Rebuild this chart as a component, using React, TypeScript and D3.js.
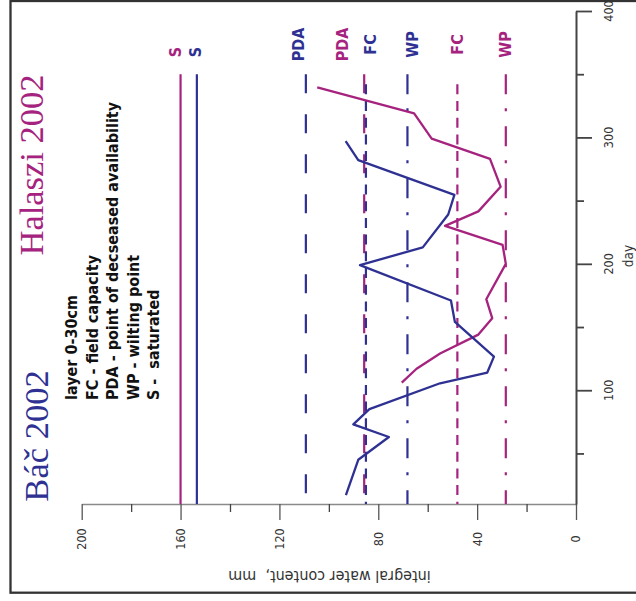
import React, { useEffect, useRef } from 'react';
import * as d3 from 'd3';

// Báč 2002 (blue) and Halaszi 2002 (magenta), integral water content of layer 0-30cm
const bacDays = [17, 45, 63, 73, 85, 105.5, 114, 126.6, 154, 171, 199, 213, 239, 254.6, 282, 297];
const bacWater = [93.1, 88.1, 75.7, 90.1, 83.6, 55.0, 35.9, 33.2, 49.0, 50.6, 87.4, 62.0, 51.7, 49.2, 88.1, 93.2];

const halDays = [106, 117, 129, 144, 157, 172, 200, 215, 230, 241.5, 261, 283, 299, 319, 339.5];
const halWater = [70.5, 64.5, 55.0, 39.5, 33.9, 36.3, 28.4, 29.7, 53.0, 39.5, 30.5, 34.8, 58.4, 65.5, 104.7];

// soil water limits, drawn as vertical lines
const limitNames = ['S', 'S', 'PDA', 'PDA', 'FC', 'WP', 'FC', 'WP'];
const limitSites = ['hal', 'bac', 'bac', 'hal', 'bac', 'bac', 'hal', 'hal'];
const limitWater = [160, 153.4, 109.3, 85.7, 85, 68.2, 48, 28.4];
const limitStart = [350, 350, 350, 350, 342, 350, 342, 350];

const waterMajor = [0, 40, 80, 120, 160, 200];
const waterMinor = [20, 60, 100, 140, 180];
const dayMajor = [100, 200, 300, 400];
const dayMinor = [50, 150, 250, 350];

const legendLines = [
  'layer 0-30cm',
  'FC - field capacity',
  'PDA - point of decseased availability',
  'WP - wilting point',
  'S -  saturated',
];

const BLUE = '#2e3192';
const MAGENTA = '#a5237e';
const SANS = '"DejaVu Sans Condensed", "DejaVu Sans", sans-serif';

const dashes: Record<string, string> = {
  S: 'none',
  PDA: '19 21',
  FC: '10 6.7',
  WP: '20 14 3 15',
};

// label nudges relative to the line, px
const labelShift = [-5, -1, -7.5, -22, 4, 5, 0, -0.5];

const App: React.FC = () => {
  const svgRef = useRef<SVGSVGElement | null>(null);

  useEffect(() => {
    if (!svgRef.current) return;
    const svg = d3.select(svgRef.current);
    svg.selectAll('*').remove();

    const width = 636;
    const height = 601;

    // the chart is turned on its side: water runs right→left, days run bottom→top
    const x = d3.scaleLinear().domain([0, 200]).range([576, 81.7]);
    const y = d3.scaleLinear().domain([10, 400]).range([504, 11]);

    svg.attr('width', width).attr('height', height);

    svg.append('rect')
      .attr('x', 10.5).attr('y', 1)
      .attr('width', 640).attr('height', 591.7)
      .attr('fill', 'none')
      .attr('stroke', '#333')
      .attr('stroke-width', 2.3);

    // water axis (bottom)
    const wAxis = svg.append('g').attr('transform', 'translate(0,504)');
    wAxis.call(d3.axisBottom(x).tickValues(waterMajor).tickSize(16).tickSizeOuter(0).tickFormat(() => ''));
    wAxis.select('.domain').attr('stroke', '#8a8a8a').attr('stroke-width', 1.4);
    wAxis.selectAll('.tick line').attr('stroke', '#555').attr('stroke-width', 1.3);
    const wMinor = svg.append('g').attr('transform', 'translate(0,504)');
    wMinor.call(d3.axisBottom(x).tickValues(waterMinor).tickSize(8).tickFormat(() => ''));
    wMinor.select('.domain').remove();
    wMinor.selectAll('.tick line').attr('stroke', '#444').attr('stroke-width', 1.3);

    svg.append('g').selectAll('text')
      .data(waterMajor)
      .enter()
      .append('text')
      .attr('transform', d => `translate(${x(d)},539) rotate(-90)`)
      .attr('dy', '0.35em')
      .attr('text-anchor', 'middle')
      .style('font-family', SANS)
      .style('font-size', '12.5px')
      .attr('fill', '#333')
      .text(d => d);

    svg.append('text')
      .attr('transform', 'translate(329.5,571) rotate(180)')
      .attr('text-anchor', 'middle')
      .style('font-family', SANS)
      .style('font-size', '16px')
      .style('white-space', 'pre')
      .attr('fill', '#333')
      .text('integral water content,  mm');

    // day axis (right)
    const dAxis = svg.append('g').attr('transform', 'translate(576,0)');
    dAxis.call(d3.axisRight(y).tickValues(dayMajor).tickSize(16).tickSizeOuter(0).tickFormat(() => ''));
    dAxis.select('.domain').attr('stroke', '#444').attr('stroke-width', 2);
    dAxis.selectAll('.tick line').attr('stroke', '#444').attr('stroke-width', 1.8);
    const dMinor = svg.append('g').attr('transform', 'translate(576,0)');
    dMinor.call(d3.axisRight(y).tickValues(dayMinor).tickSize(8).tickFormat(() => ''));
    dMinor.select('.domain').remove();
    dMinor.selectAll('.tick line').attr('stroke', '#444').attr('stroke-width', 1.8);

    svg.append('g').selectAll('text')
      .data(dayMajor)
      .enter()
      .append('text')
      .attr('transform', d => `translate(608.5,${y(d)}) rotate(-90)`)
      .attr('dy', '0.35em')
      .attr('text-anchor', 'middle')
      .style('font-family', SANS)
      .style('font-size', '12.5px')
      .attr('fill', '#333')
      .text(d => d);

    svg.append('text')
      .attr('transform', 'translate(632.5,256) rotate(-90)')
      .attr('text-anchor', 'middle')
      .style('font-family', SANS)
      .style('font-size', '13.5px')
      .attr('fill', '#333')
      .text('day');

    // limit lines
    const limits = limitNames.map((name, i) => ({
      name,
      site: limitSites[i],
      water: limitWater[i],
      start: limitStart[i],
      shift: labelShift[i],
    }));
    limits.forEach(d => {
      svg.append('line')
        .attr('x1', x(d.water)).attr('x2', x(d.water))
        .attr('y1', y(d.start)).attr('y2', y(10))
        .attr('stroke', d.site === 'bac' ? BLUE : MAGENTA)
        .attr('stroke-width', 2.2)
        .attr('stroke-dasharray', dashes[d.name]);
    });

    svg.append('g').selectAll('text')
      .data(limits)
      .enter()
      .append('text')
      .attr('transform', d => `translate(${x(d.water) + d.shift},${d.name === 'S' ? 52 : 44.5}) rotate(-90)`)
      .attr('dy', '0.35em')
      .attr('text-anchor', 'middle')
      .style('font-family', SANS)
      .style('font-weight', 'bold')
      .style('font-size', '16px')
      .attr('fill', d => (d.site === 'bac' ? BLUE : MAGENTA))
      .text(d => d.name);

    // water content curves
    const line = d3.line<[number, number]>()
      .x(d => x(d[1]))
      .y(d => y(d[0]));

    const bac = bacDays.map((d, i) => [d, bacWater[i]] as [number, number]);
    const hal = halDays.map((d, i) => [d, halWater[i]] as [number, number]);

    svg.append('path')
      .datum(hal)
      .attr('d', line)
      .attr('fill', 'none')
      .attr('stroke', MAGENTA)
      .attr('stroke-width', 2.3)
      .attr('stroke-linejoin', 'round');

    svg.append('path')
      .datum(bac)
      .attr('d', line)
      .attr('fill', 'none')
      .attr('stroke', BLUE)
      .attr('stroke-width', 2.3)
      .attr('stroke-linejoin', 'round');

    // titles and legend
    svg.append('text')
      .attr('transform', 'translate(42.5,165) rotate(-90)')
      .attr('text-anchor', 'middle')
      .style('font-family', 'Liberation Serif')
      .style('font-size', '34.5px')
      .attr('fill', MAGENTA)
      .text('Halaszi 2002');

    svg.append('text')
      .attr('transform', 'translate(48,436) rotate(-90)')
      .attr('text-anchor', 'middle')
      .style('font-family', 'Liberation Serif')
      .style('font-size', '34.5px')
      .attr('fill', BLUE)
      .text('Báč 2002');

    const legendBase = [77, 97.5, 118, 138.5, 159];
    svg.append('g').selectAll('text')
      .data(legendLines)
      .enter()
      .append('text')
      .attr('transform', (d, i) => `translate(${legendBase[i]},400) rotate(-90)`)
      .attr('text-anchor', 'start')
      .style('font-family', SANS)
      .style('font-weight', 'bold')
      .style('font-size', '16px')
      .style('white-space', 'pre')
      .attr('fill', '#111')
      .text(d => d);
  }, []);

  return (
    <div style={{ position: 'absolute', left: 0, top: 0, width: 636, height: 601, background: '#fff' }}>
      <svg ref={svgRef} style={{ display: 'block' }} />
    </div>
  );
};

export default App;
